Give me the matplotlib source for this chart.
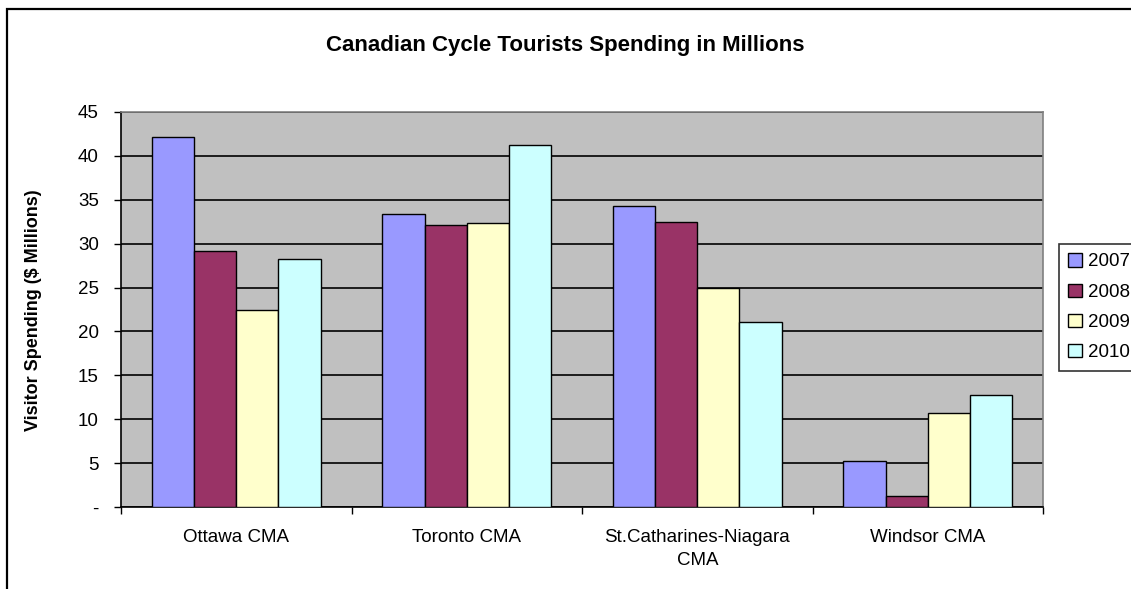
import matplotlib
matplotlib.use('Agg')
import matplotlib.pyplot as plt
import numpy as np
from matplotlib.patches import Rectangle

plt.rcParams['font.family'] = ['Liberation Sans', 'DejaVu Sans']

CATEGORIES = ['Ottawa CMA', 'Toronto CMA', 'St.Catharines-Niagara\nCMA', 'Windsor CMA']
YEARS = ['2007', '2008', '2009', '2010']
SPEND_2007 = [42.1, 33.4, 34.3, 5.2]
SPEND_2008 = [29.2, 32.1, 32.5, 1.2]
SPEND_2009 = [22.5, 32.3, 24.9, 10.7]
SPEND_2010 = [28.3, 41.2, 21.1, 12.8]
COLORS = ['#9999FF', '#993366', '#FFFFCC', '#CCFFFF']
Y_TICKS = [0, 5, 10, 15, 20, 25, 30, 35, 40, 45]
Y_TICK_LABELS = ['-', '5', '10', '15', '20', '25', '30', '35', '40', '45']

W, H = 1131, 589


def main():
    fig = plt.figure(figsize=(W / 100, H / 100), dpi=100)
    ax = fig.add_axes([121 / W, 1 - 507 / H, 922 / W, 395 / H])
    ax.set_facecolor('#C0C0C0')

    series = [SPEND_2007, SPEND_2008, SPEND_2009, SPEND_2010]
    x = np.arange(len(CATEGORIES))
    width = 0.183
    for i, (vals, year, color) in enumerate(zip(series, YEARS, COLORS)):
        offset = (i - 1.5) * width
        ax.bar(x + offset, vals, width, color=color, edgecolor='black',
               linewidth=1, label=year, zorder=3)

    ax.set_xlim(-0.5, len(CATEGORIES) - 0.5)
    ax.set_ylim(0, 45)
    ax.set_yticks(Y_TICKS)
    ax.set_yticklabels(Y_TICK_LABELS, fontsize=13.5)
    ax.yaxis.grid(True, color='black', linewidth=1.2, zorder=1)
    ax.set_axisbelow(True)

    ax.set_xticks(x)
    ax.set_xticklabels(CATEGORIES, fontsize=13.5, linespacing=1.45)
    ax.tick_params(axis='x', which='major', length=0, pad=16)
    ax.set_xticks(np.arange(len(CATEGORIES) + 1) - 0.5, minor=True)
    ax.tick_params(axis='x', which='minor', length=5, width=1, direction='out')
    ax.tick_params(axis='y', length=5, width=1, direction='out', pad=11)

    for side in ['top', 'right']:
        ax.spines[side].set_color('#808080')
        ax.spines[side].set_linewidth(1.2)
    for side in ['left', 'bottom']:
        ax.spines[side].set_color('black')
        ax.spines[side].set_linewidth(1.2)

    ax.set_ylabel('Visitor Spending ($ Millions)', fontsize=13,
                  fontweight='bold')
    ax.yaxis.set_label_coords(42 / W, 1 - 310 / H, transform=fig.transFigure)
    fig.text(565 / W, 1 - 46 / H, 'Canadian Cycle Tourists Spending in Millions',
             ha='center', va='center', fontsize=16, fontweight='bold')

    leg = ax.legend(loc='upper left', bbox_to_anchor=(1059 / W, 1 - 244 / H),
                    bbox_transform=fig.transFigure, fontsize=13.5, frameon=True,
                    fancybox=False, edgecolor='black', handlelength=0.7,
                    handleheight=0.7, handletextpad=0.35, labelspacing=0.7,
                    borderpad=0.5, borderaxespad=0)
    leg.get_frame().set_linewidth(1.2)

    fig.patches.append(Rectangle((7 / W, -0.1), 1.2, 1.1 - 9 / H,
                                 transform=fig.transFigure, fill=False,
                                 edgecolor='black', linewidth=1.6))

    fig.savefig('out.png', dpi=100)
    plt.close(fig)


if __name__ == '__main__':
    main()
